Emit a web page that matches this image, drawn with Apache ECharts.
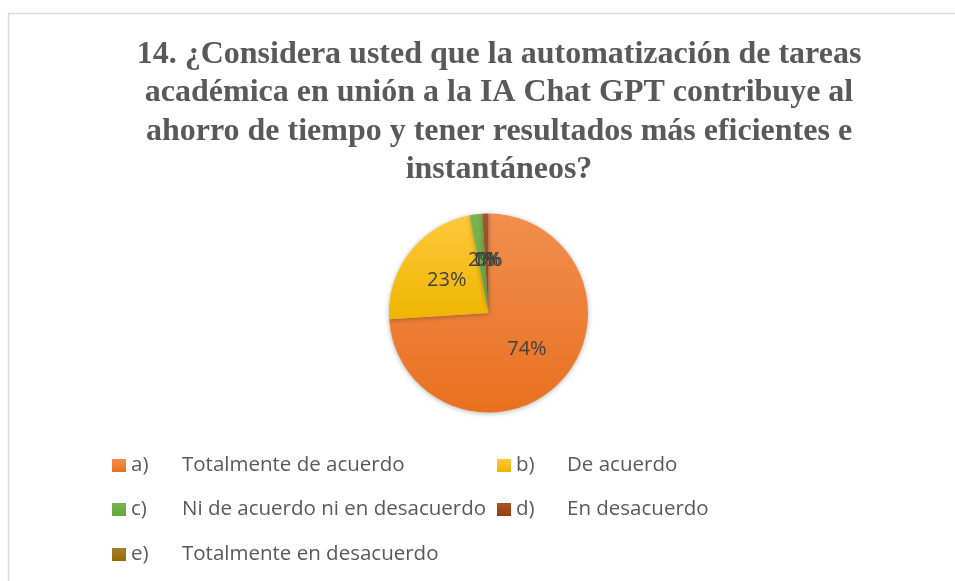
<!DOCTYPE html>
<html>
<head>
<meta charset="utf-8">
<script src="https://cdn.jsdelivr.net/npm/echarts@6/dist/echarts.min.js"></script>
<style>
html,body{margin:0;padding:0;background:#fff;}
#c{width:955px;height:581px;}
</style>
</head>
<body>
<div id="c"></div>
<script>
var titleLines = [
  "14. ¿Considera usted que la automatización de tareas",
  "académica en unión a la IA Chat GPT contribuye al",
  "ahorro de tiempo y tener resultados más eficientes e",
  "instantáneos?"
];
var prefixes = ["a)", "b)", "c)", "d)", "e)"];
var categories = [
  "Totalmente de acuerdo",
  "De acuerdo",
  "Ni de acuerdo ni en desacuerdo",
  "En desacuerdo",
  "Totalmente en desacuerdo"
];
var values = [74, 23, 2, 1, 0];
var colorsTop = ["#F28E4F", "#FFC83A", "#78B552", "#A8542A", "#A47F2F"];
var colorsBottom = ["#E8711F", "#EFB500", "#66A53E", "#963F0A", "#946A00"];

function grad(i) {
  return new echarts.graphic.LinearGradient(0, 0, 0, 1, [
    {offset: 0, color: colorsTop[i]},
    {offset: 1, color: colorsBottom[i]}
  ]);
}

var names = categories.map(function (c, i) { return prefixes[i] + " " + c; });
var data = values.map(function (v, i) {
  return {name: names[i], value: v, itemStyle: {color: grad(i)}};
});

var legendFont = "Open Sans";
function legendRow(idxs, top) {
  return {
    data: idxs.map(function (i) { return {name: names[i], itemStyle: {color: grad(i)}}; }),
    left: 112,
    top: top,
    orient: 'horizontal',
    padding: 0,
    itemGap: 10,
    itemWidth: 14,
    itemHeight: 13,
    icon: 'rect',
    selectedMode: false,
    formatter: function (n) {
      var k = n.indexOf(" ");
      return "{p|" + n.slice(0, k) + "}{t|" + n.slice(k + 1) + "}";
    },
    textStyle: {
      color: "#595959",
      fontFamily: legendFont,
      fontSize: 20.5,
      rich: {
        p: {width: 51, fontSize: 20.5, color: "#595959", fontFamily: legendFont, lineHeight: 20},
        t: {width: 305, fontSize: 20.5, color: "#595959", fontFamily: legendFont, lineHeight: 20}
      }
    }
  };
}

var chart = echarts.init(document.getElementById('c'), null, {renderer: 'canvas'});
chart.setOption({
  animation: false,
  graphic: [{
    type: 'rect',
    shape: {x: 8.5, y: 13.5, width: 1000, height: 1000},
    style: {fill: 'none', stroke: '#D9D9D9', lineWidth: 1.5},
    silent: true
  }],
  title: {
    text: titleLines.join("\n"),
    left: 494,
    top: 30,
    textAlign: 'center',
    textStyle: {
      fontFamily: "Liberation Serif",
      fontWeight: 'bold',
      fontSize: 32,
      lineHeight: 38.5,
      color: "#595959"
    }
  },
  legend: [
    legendRow([0, 1], 455),
    legendRow([2, 3], 499),
    legendRow([4], 544)
  ],
  series: [{
    type: 'pie',
    center: [488.5, 313],
    radius: [0, 99.5],
    startAngle: 90,
    clockwise: true,
    avoidLabelOverlap: false,
    labelLayout: {hideOverlap: false},
    minShowLabelAngle: 0,
    data: data,
    itemStyle: {
      shadowBlur: 5,
      shadowColor: 'rgba(0,0,0,0.3)',
      shadowOffsetX: 0,
      shadowOffsetY: 1
    },
    label: {
      show: true,
      position: 'inside',
      formatter: '{d}%',
      fontFamily: "Open Sans",
      fontSize: 20,
      color: "#404040"
    },
    labelLine: {show: false},
    emphasis: {disabled: true}
  }]
});
</script>
</body>
</html>
